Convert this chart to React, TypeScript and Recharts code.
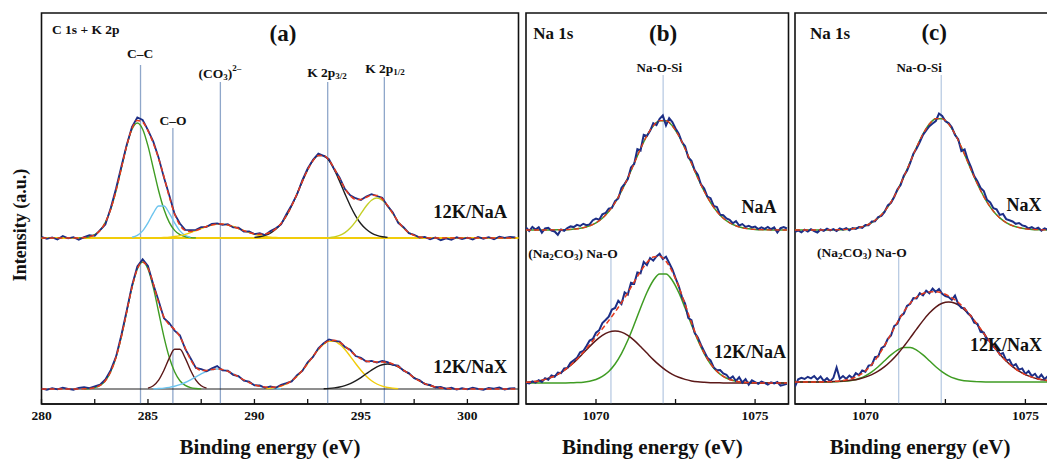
import React from 'react';
import { LineChart, Line, XAxis, YAxis, ReferenceLine, ReferenceArea, ReferenceDot } from 'recharts';

const FONT = '"Liberation Serif", "Times New Roman", Times, serif';
const INK = '#111';

// ---- panel (a): C 1s + K 2p, sampled 280 -> 302.25 eV every 0.25 eV ----
const A_START = 280;
const A_STEP = 0.25;
const A_DOMAIN = [280, 302.4];
const A_TICKS = [280, 282.5, 285, 287.5, 290, 292.5, 295, 297.5, 300];

const aRawNaA = [
  1.2, -0.8, 0.5, -1.5, 2.0, -0.3, 0.9, -1.7, 0.8, 2.9,
  2.2, 7.8, 13.5, 30.0, 49.5, 71.5, 93.0, 111.2, 120.5, 118.0,
  107.9, 96.3, 80.2, 60.5, 42.8, 24.0, 14.5, 8.2, 7.9, 8.1,
  10.8, 11.2, 14.1, 14.6, 13.1, 13.8, 10.6, 10.3, 6.4, 6.7,
  3.9, 4.8, 3.0, 6.9, 9.8, 13.6, 23.9, 33.1, 43.5, 57.9,
  69.6, 78.3, 84.5, 82.1, 78.9, 68.7, 60.4, 48.9, 42.7, 39.8,
  37.9, 41.5, 43.9, 42.0, 40.3, 32.1, 25.6, 15.2, 10.8, 4.9,
  3.2, 0.4, 1.1, -1.3, 0.6, -2.2, -0.4, -1.9, 0.7, -1.0,
  0.3, -1.6, 1.1, -0.7, 0.9, -1.2, 1.4, 0.2, 1.0, 0.5,
];
const aFitNaA = [
  0, 0, 0, 0, 0, 0, 0, 0.1, 0.4, 1.3,
  3.3, 7.6, 15.6, 28.7, 47.3, 69.7, 92.1, 109.6, 117.6, 115.9,
  107.2, 94.7, 79.5, 61.2, 41.3, 24.2, 12.8, 7.6, 6.6, 7.5,
  9.5, 11.5, 13.0, 13.9, 13.9, 13.0, 11.5, 9.5, 7.4, 5.4,
  4.3, 3.7, 4.1, 5.7, 9.2, 14.5, 22.3, 32.3, 44.1, 56.6,
  68.3, 77.4, 82.4, 82.4, 77.8, 69.4, 59.2, 49.5, 42.3, 38.6,
  38.6, 40.7, 42.7, 42.6, 39.1, 32.6, 24.3, 16.4, 10.0, 5.4,
  2.6, 1.1, 0.4, 0, 0, 0, 0, 0, 0, 0,
  0, 0, 0, 0, 0, 0, 0, 0, 0, 0,
];
const aRawNaX = [
  0.5, -0.9, 0.8, -0.4, 1.3, 0.2, -0.7, 1.1, 1.8, 0.9,
  2.6, 4.4, 9.5, 18.9, 32.4, 54.0, 78.3, 103.5, 122.6, 129.8,
  123.1, 104.6, 88.2, 70.8, 65.9, 58.4, 53.6, 40.1, 30.7, 21.0,
  19.9, 17.8, 20.6, 22.9, 18.6, 18.3, 14.2, 12.9, 8.4, 7.3,
  3.6, 3.5, 1.2, 2.6, 1.3, 4.2, 5.8, 7.6, 13.9, 18.1,
  26.7, 32.0, 40.6, 45.8, 49.6, 48.1, 47.5, 42.0, 39.2, 33.0,
  31.3, 27.4, 28.1, 26.4, 28.0, 26.9, 24.1, 23.4, 18.2, 16.1,
  10.7, 8.9, 4.8, 4.1, 1.5, 2.0, 0.1, 1.2, -0.6, 0.9,
  -0.3, 1.4, 0.2, -0.8, 1.0, 0.4, 1.5, -0.5, 0.7, 0.9,
];
const aFitNaX = [
  0, 0, 0, 0, 0, 0, 0, 0, 0.2, 0.5,
  1.4, 3.6, 8.3, 17.2, 31.7, 52.2, 77.0, 101.7, 120.1, 127.0,
  121.0, 105.2, 86.4, 71.9, 64.2, 59.6, 52.3, 41.0, 29.4, 21.5,
  18.6, 18.6, 19.4, 20.0, 19.4, 17.7, 15.1, 12.1, 9.2, 6.5,
  4.3, 2.7, 2.0, 1.7, 2.0, 3.1, 5.0, 8.3, 12.8, 18.7,
  25.5, 32.7, 39.5, 45.0, 48.2, 48.7, 46.7, 42.9, 38.1, 33.6,
  30.1, 28.0, 27.2, 27.1, 27.1, 26.5, 25.0, 22.5, 18.9, 15.2,
  11.4, 8.1, 5.4, 3.4, 2.0, 1.1, 0.6, 0.3, 0, 0,
  0, 0, 0, 0, 0, 0, 0, 0, 0, 0,
];

// fitted components (first energy, values on the 0.25 eV grid)
const aNaACC = { from: 281.75, vals: [0.1, 0.4, 1.3, 3.3, 7.6, 15.6, 28.7, 47.3, 69.7, 92.1, 108.8, 115, 108.8, 92.1, 69.7, 47.3, 28.7, 15.6, 7.6, 3.3, 1.3, 0.4, 0.1] };
const aNaACO = { from: 284.25, vals: [0.75, 2.6, 7.1, 15.1, 24.9, 32.0, 32.0, 24.9, 15.1, 7.1, 2.6, 0.75] };
const aNaACO3 = { from: 285.25, vals: [0.1, 0.2, 0.45, 0.8, 1.5, 2.4, 3.7, 5.4, 7.4, 9.5, 11.5, 13.0, 13.9, 13.9, 13.0, 11.5, 9.5, 7.4, 5.4, 3.7, 2.4, 1.5, 0.8, 0.45, 0.2, 0.1] };
const aNaAK3 = { from: 290.0, vals: [0.6, 1.3, 2.6, 4.9, 8.7, 14.3, 22.2, 32.3, 44.1, 56.6, 68.3, 77.4, 82.4, 82.4, 77.4, 68.3, 56.6, 44.1, 32.3, 22.2, 14.3, 8.7, 4.9, 2.6, 1.3, 0.6] };
const aNaAK1 = { from: 293.5, vals: [0.4, 1.1, 2.6, 5.4, 10.0, 16.4, 24.3, 32.0, 37.8, 40, 37.8, 32.0, 24.3, 16.4, 10.0, 5.4, 2.6, 1.1, 0.4] };
const aNaXCC = { from: 282.0, vals: [0.15, 0.5, 1.4, 3.6, 8.3, 17.2, 31.7, 52.2, 77.0, 101.7, 120.1, 127, 120.1, 101.7, 77.0, 52.2, 31.7, 17.2, 8.3, 3.6, 1.4, 0.5, 0.15] };
const aNaXCO = { from: 285.0, vals: [0.9, 3.3, 8.9, 18.8, 30.9, 39.7, 39.7, 30.9, 18.8, 8.9, 3.3, 0.9] };
const aNaXCO3 = { from: 285.25, vals: [0.2, 0.5, 0.9, 1.6, 2.7, 4.3, 6.5, 9.2, 12.1, 15.1, 17.7, 19.4, 20, 19.4, 17.7, 15.1, 12.1, 9.2, 6.5, 4.3, 2.7, 1.6, 0.9, 0.5, 0.2] };
const aNaXK3 = { from: 290.5, vals: [0.4, 0.8, 1.5, 2.9, 5.0, 8.3, 12.8, 18.7, 25.5, 32.7, 39.5, 44.7, 47.6, 47.6, 44.7, 39.5, 32.7, 25.5, 18.7, 12.8, 8.3, 5.0, 2.9, 1.5, 0.8, 0.4] };
const aNaXK1 = { from: 293.25, vals: [0.3, 0.6, 1.1, 2.0, 3.4, 5.4, 8.1, 11.4, 15.2, 18.9, 22.1, 24.2, 25, 24.2, 22.1, 18.9, 15.2, 11.4, 8.1, 5.4, 3.4, 2.0, 1.1, 0.6, 0.3] };

const aPeakEnergies = [284.65, 286.17, 288.4, 293.44, 296.1];
const aPeakTops = [339, 276, 322, 322, 327];

// ---- panels (b), (c): Na 1s. raw every 0.1 eV, fits every 0.2 eV from 1067.8 ----
const NA_START = 1067.8;
const NA_DOMAIN = [1067.8, 1076.05];
const NA_TICKS = [1070, 1072.5, 1075];

const bRawNaA = [
  2.5, -1.0, 3.0, 0.5, 2.8, -2.6, 1.5, 2.2, -0.5, -1.5,
  -4.8, 0.5, -0.8, 2.0, 3.6, 2.9, 5.1, 4.0, 6.2, 4.8,
  5.6, 9.8, 11.5, 10.2, 15.6, 17.0, 21.3, 22.0, 28.9, 31.5,
  42.0, 46.1, 51.0, 62.5, 66.0, 80.8, 79.5, 95.2, 94.0, 99.1,
  106.8, 104.9, 111.2, 114.5, 104.6, 111.9, 108.0, 101.6, 96.3, 88.0,
  83.9, 72.5, 69.2, 60.0, 55.4, 45.5, 41.6, 33.4, 31.8, 24.0,
  22.9, 15.3, 14.8, 11.6, 10.1, 6.7, 8.9, 4.5, 5.9, 3.1,
  4.2, 2.5, 3.4, 0.9, 2.7, 1.2, 3.0, 0.8, 2.6, -2.5,
  1.8, 2.9, 1.5,
];
const bFitNaA = [0, 0, 0, 0.02, 0.05, 0.13, 0.3, 0.6, 1.2, 2.3, 4.2, 7.2, 11.8, 18.5, 27.4, 38.8, 52.1, 66.7, 81.3, 94.3, 104.1, 109.3, 109.3, 104.1, 94.3, 81.3, 66.7, 52.1, 38.8, 27.4, 18.5, 11.8, 7.2, 4.2, 2.3, 1.2, 0.6, 0.3, 0.13, 0.05, 0.02, 0];
const bRaw12K = [
  0.2, -0.5, 1.6, 0.4, 2.8, 1.0, 4.8, 3.3, 7.5, 6.2,
  10.4, 9.8, 14.5, 15.0, 20.3, 22.8, 25.1, 30.6, 32.0, 36.9,
  42.5, 44.0, 50.3, 52.8, 59.9, 63.0, 66.4, 73.5, 75.1, 82.3,
  79.0, 90.6, 88.4, 100.2, 99.3, 110.5, 109.8, 121.0, 117.9, 125.0,
  122.4, 126.5, 129.2, 124.0, 126.3, 120.0, 113.6, 104.8, 97.0, 86.1,
  79.5, 65.0, 62.8, 50.1, 45.6, 38.0, 31.5, 25.2, 22.6, 15.5,
  12.8, 12.9, 9.6, 8.3, 4.2, 6.5, 2.0, 5.7, 0.5, 3.9,
  -1.6, 2.6, 0.9, -0.8, 1.3, 0.2, -1.5, 0.6, -0.5, 1.0,
  -2.6, -1.9, -0.9,
];
const bFit12K = [0.7, 1.2, 2.1, 3.6, 5.7, 8.6, 12.7, 17.8, 23.8, 30.7, 38.3, 46.1, 54.2, 62.4, 71.0, 80.3, 90.3, 101.0, 111.5, 120.4, 125.9, 126.7, 121.7, 111.1, 96.2, 78.6, 60.5, 43.9, 30.1, 19.4, 11.7, 6.7, 3.5, 1.8, 0.8, 0.4, 0.15, 0.06, 0, 0, 0, 0];
const bSi12K = [0, 0, 0, 0, 0, 0, 0.06, 0.15, 0.4, 0.8, 1.8, 3.5, 6.6, 11.5, 19.0, 29.4, 42.7, 58.4, 75.0, 90.5, 102.5, 109.1, 109.1, 102.5, 90.5, 75.0, 58.4, 42.7, 29.4, 19.0, 11.5, 6.6, 3.5, 1.8, 0.8, 0.4, 0.15, 0.06, 0, 0, 0, 0];
const bCO312K = [0.7, 1.2, 2.1, 3.6, 5.7, 8.6, 12.6, 17.6, 23.4, 29.9, 36.5, 42.6, 47.6, 50.9, 52, 50.9, 47.6, 42.6, 36.5, 29.9, 23.4, 17.6, 12.6, 8.6, 5.7, 3.6, 2.1, 1.2, 0.7, 0.35, 0.18, 0.09, 0.04, 0, 0, 0, 0, 0, 0, 0, 0, 0];

const cRawNaX = [
  -1.8, -0.5, -2.4, 0.3, -1.6, 0.8, -1.2, -2.5, 0.5, -0.9,
  1.3, -0.4, 0.9, -1.1, 1.6, 0.4, 1.8, -0.3, 2.0, 1.1,
  2.9, 2.2, 5.1, 4.9, 8.6, 8.8, 13.0, 14.1, 18.0, 24.6,
  27.2, 33.0, 40.6, 45.0, 54.3, 59.2, 67.0, 76.4, 81.5, 88.0,
  95.2, 99.6, 103.8, 106.5, 109.0, 116.5, 114.0, 108.7, 106.9, 102.8,
  95.0, 90.8, 79.0, 80.5, 70.3, 62.8, 53.9, 48.8, 42.0, 38.9,
  30.1, 27.5, 21.8, 20.6, 15.1, 16.0, 10.9, 9.8, 8.5, 6.2,
  7.0, 4.6, 3.8, 1.5, 2.9, 0.8, 2.4, -0.6, 1.7, 0.2,
  1.9, -0.4, 1.2,
];
const cFitNaX = [0, 0, 0, 0, 0.02, 0.05, 0.13, 0.3, 0.6, 1.2, 2.4, 4.3, 7.4, 12.1, 18.8, 27.9, 39.5, 53.1, 67.9, 82.8, 96.0, 106.0, 111.3, 111.3, 106.0, 96.0, 82.8, 67.9, 53.1, 39.5, 27.9, 18.8, 12.1, 7.4, 4.3, 2.4, 1.2, 0.6, 0.3, 0.13, 0.05, 0.02];
const cRaw12K = [
  -4.5, 2.8, 4.1, 3.0, 5.2, 3.6, 6.0, 2.4, 5.5, 1.0,
  3.8, 0.6, 4.2, 14.5, 3.2, 5.9, 3.1, 6.4, 4.0, 8.8,
  6.9, 11.5, 10.2, 16.4, 17.0, 24.8, 25.5, 33.9, 36.0, 43.2,
  46.5, 56.0, 58.3, 65.9, 68.4, 76.1, 78.2, 84.0, 83.5, 88.9,
  86.7, 91.4, 88.8, 93.5, 90.0, 93.0, 88.2, 86.0, 84.9, 82.1,
  86.4, 78.0, 74.2, 73.5, 68.7, 66.0, 59.4, 58.3, 50.2, 49.5,
  42.0, 41.6, 35.2, 34.7, 27.5, 28.9, 21.6, 22.4, 16.0, 17.9,
  12.2, 13.6, 8.1, 10.9, 6.0, 8.2, 3.5, 7.4, 2.8, 5.9,
  2.1, 4.6, 1.9,
];
const cFit12K = [0, 0, 0.02, 0.05, 0.1, 0.26, 0.56, 1.1, 2.1, 3.7, 6.6, 11.1, 17.6, 26.1, 36.5, 48.1, 59.7, 70.2, 78.7, 84.8, 88.5, 90.1, 90.2, 88.9, 86.2, 82.2, 76.7, 69.8, 61.8, 53.1, 44.2, 35.6, 27.8, 21.0, 15.3, 10.8, 7.4, 4.9, 3.1, 1.9, 1.2, 0.7];
const cCO312K = [0, 0, 0, 0, 0, 0.06, 0.16, 0.4, 0.9, 1.8, 3.5, 6.2, 10.2, 15.3, 21.2, 27.1, 31.9, 34.6, 34.6, 31.9, 27.1, 21.2, 15.3, 10.2, 6.2, 3.5, 1.8, 0.9, 0.4, 0.16, 0.06, 0, 0, 0, 0, 0, 0, 0, 0, 0, 0, 0];
const cSi12K = [0, 0, 0.02, 0.05, 0.1, 0.2, 0.4, 0.7, 1.2, 1.9, 3.1, 4.9, 7.4, 10.8, 15.3, 21.0, 27.8, 35.6, 44.1, 52.9, 61.4, 68.9, 74.9, 78.7, 80, 78.7, 74.9, 68.9, 61.4, 52.9, 44.1, 35.6, 27.8, 21.0, 15.3, 10.8, 7.4, 4.9, 3.1, 1.9, 1.2, 0.7];

// vertical stacking offsets of each spectrum (a.u.)
const OFF_A_NAA = 166;
const OFF_A_NAX = 15;
const OFF_B_NAA = 174;
const OFF_B_12K = 21;
const OFF_C_NAX = 174;
const OFF_C_12K = 22;
const Y_MAX = 391;

const pts = (from: number, step: number, vals: number[], off: number) =>
  vals.map((v, i) => ({ e: Math.round((from + i * step) * 100) / 100, v: v + off }));

const C = {
  raw: '#1c2e86',
  fit: '#e5391d',
  green: '#3f9c23',
  sky: '#6cc4ee',
  gold: '#f1cc0a',
  lime: '#c4cf27',
  black: '#1e1e1e',
  brown: '#5b1818',
  marker: '#8fa7ca',
  pale: '#b9cbe3',
};

const base = { dot: false, activeDot: false, isAnimationActive: false } as const;

function curve(key: string, data: any[], stroke: string, width = 1.4, dashed = false, linear = false) {
  return (
    <Line
      key={key}
      data={data}
      dataKey="v"
      type={linear ? 'linear' : 'monotone'}
      stroke={stroke}
      strokeWidth={width}
      strokeDasharray={dashed ? '5 3' : undefined}
      {...base}
    />
  );
}

function tag(key: string, x: number, y: number, content: React.ReactNode, size = 13.5, anchor = 'middle', rotate = false) {
  return (
    <ReferenceDot
      key={key}
      x={x}
      y={y}
      r={0}
      fill="none"
      stroke="none"
      ifOverflow="visible"
      label={(p: any) => {
        const vb = p.viewBox || {};
        const cx = (vb.x ?? 0) + (vb.width ?? 0) / 2;
        const cy = (vb.y ?? 0) + (vb.height ?? 0) / 2;
        return (
          <text
            x={cx}
            y={cy}
            textAnchor={anchor}
            dominantBaseline="central"
            fontFamily={FONT}
            fontWeight="bold"
            fontSize={size}
            fill={INK}
            transform={rotate ? `rotate(-90 ${cx} ${cy})` : undefined}
          >
            {content}
          </text>
        );
      }}
    />
  );
}

function marker(key: string, x: number, top: number, color: string) {
  return <ReferenceLine key={key} segment={[{ x, y: top }, { x, y: 0 }]} stroke={color} strokeWidth={1.3} ifOverflow="visible" />;
}

const SUB = 3.5;

const co3Label = (
  <>
    <tspan>(CO</tspan>
    <tspan dy={SUB} fontSize={9}>3</tspan>
    <tspan dy={-SUB}>)</tspan>
    <tspan dy={-5} fontSize={9}>{'2\u2013'}</tspan>
  </>
);

const k32Label = (
  <>
    <tspan>K 2p</tspan>
    <tspan dy={SUB} fontSize={9}>3/2</tspan>
  </>
);

const k12Label = (
  <>
    <tspan>K 2p</tspan>
    <tspan dy={SUB} fontSize={9}>1/2</tspan>
  </>
);

const na2co3 = (
  <>
    <tspan>(Na</tspan>
    <tspan dy={SUB} fontSize={9}>2</tspan>
    <tspan dy={-SUB}>CO</tspan>
    <tspan dy={SUB} fontSize={9}>3</tspan>
    <tspan dy={-SUB}>) Na-O</tspan>
  </>
);

function Panel({ left, width, mLeft, mRight, domain, ticks, children }: any) {
  return (
    <div style={{ position: 'absolute', left, top: 0 }}>
      <LineChart width={width} height={460} margin={{ top: 13, left: mLeft, right: mRight, bottom: 26 }}>
        <XAxis
          dataKey="e"
          type="number"
          domain={domain}
          allowDataOverflow
          ticks={ticks}
          interval={0}
          tickFormatter={(v: number) => (v % 5 === 0 ? String(v) : '')}
          tickSize={-5}
          tickMargin={11}
          height={30}
          axisLine={{ stroke: INK, strokeWidth: 1.6 }}
          tickLine={{ stroke: INK, strokeWidth: 1.3 }}
          tick={{ fill: INK, fontSize: 13.5, fontWeight: 'bold', fontFamily: FONT }}
        />
        <YAxis hide type="number" domain={[0, Y_MAX]} allowDataOverflow />
        <ReferenceArea x1={domain[0]} x2={domain[1]} y1={0} y2={Y_MAX} fill="none" stroke={INK} strokeWidth={1.6} ifOverflow="visible" />
        {children}
      </LineChart>
    </div>
  );
}

export default function App() {
  const s = (c: { from: number; vals: number[] }, off: number) => pts(c.from, A_STEP, c.vals, off);

  const panelA = [
    ...aPeakEnergies.map((e, i) => marker('m' + i, e, aPeakTops[i], C.marker)),
    <ReferenceLine key="bl1" y={OFF_A_NAA} stroke={C.gold} strokeWidth={1.8} />,
    <ReferenceLine key="bl2" y={OFF_A_NAX} stroke={C.black} strokeWidth={1} />,
    curve('a1', s(aNaACC, OFF_A_NAA), C.green),
    curve('a2', s(aNaACO, OFF_A_NAA), C.sky),
    curve('a3', s(aNaACO3, OFF_A_NAA), C.gold),
    curve('a4', s(aNaAK3, OFF_A_NAA), C.black),
    curve('a5', s(aNaAK1, OFF_A_NAA), C.lime),
    curve('a6', pts(A_START, A_STEP, aRawNaA, OFF_A_NAA), C.raw, 1.8, false, true),
    curve('a7', pts(A_START, A_STEP, aFitNaA, OFF_A_NAA), C.fit, 1.5, true),
    curve('x1', s(aNaXCC, OFF_A_NAX), C.green),
    curve('x2', s(aNaXCO, OFF_A_NAX), C.brown),
    curve('x3', s(aNaXCO3, OFF_A_NAX), C.sky),
    curve('x4', s(aNaXK3, OFF_A_NAX), C.gold),
    curve('x5', s(aNaXK1, OFF_A_NAX), C.black),
    curve('x6', pts(A_START, A_STEP, aRawNaX, OFF_A_NAX), C.raw, 1.8, false, true),
    curve('x7', pts(A_START, A_STEP, aFitNaX, OFF_A_NAX), C.fit, 1.5, true),
    tag('t1', 280.49, 375, 'C 1s + K 2p', 13.5, 'start'),
    tag('t2', 291.34, 371, '(a)', 23),
    tag('t3', 284.63, 351, 'C\u2013C'),
    tag('t4', 286.18, 284, 'C\u2013O'),
    tag('t5', 288.38, 331, co3Label),
    tag('t6', 293.41, 332, k32Label),
    tag('t7', 296.13, 336, k12Label),
    tag('t8', 300.13, 192, '12K/NaA', 18.5),
    tag('t9', 300.13, 37, '12K/NaX', 18.5),
    tag('t10', 278.99, 179, 'Intensity (a.u.)', 18, 'middle', true),
    tag('t11', 290.73, -43, 'Binding energy (eV)', 21),
  ];

  const panelB = [
    marker('m1', 1072.11, 329, C.pale),
    marker('m2', 1070.47, 151, C.pale),
    curve('b1', pts(NA_START, 0.2, bFitNaA, OFF_B_NAA), C.green, 1.5),
    curve('b2', pts(NA_START, 0.1, bRawNaA, OFF_B_NAA), C.raw, 2, false, true),
    curve('b3', pts(NA_START, 0.2, bFitNaA, OFF_B_NAA), C.fit, 1.3, true),
    curve('b4', pts(NA_START, 0.2, bSi12K, OFF_B_12K), C.green, 1.5),
    curve('b5', pts(NA_START, 0.2, bCO312K, OFF_B_12K), C.brown, 1.5),
    curve('b6', pts(NA_START, 0.1, bRaw12K, OFF_B_12K), C.raw, 2, false, true),
    curve('b7', pts(NA_START, 0.2, bFit12K, OFF_B_12K), C.fit, 1.5, true),
    tag('u1', 1068.03, 371, 'Na 1s', 17, 'start'),
    tag('u2', 1072.11, 371, '(b)', 23),
    tag('u3', 1071.99, 337, 'Na-O-Si', 13),
    tag('u4', 1075.12, 197, 'NaA', 18),
    tag('u5', 1067.87, 151, na2co3, 13.5, 'start'),
    tag('u6', 1074.84, 52, '12K/NaA', 18),
    tag('u7', 1071.77, -43, 'Binding energy (eV)', 21),
  ];

  const panelC = [
    marker('m1', 1072.37, 329, C.pale),
    marker('m2', 1071.04, 151, C.pale),
    curve('c1', pts(NA_START, 0.2, cFitNaX, OFF_C_NAX), C.green, 1.5),
    curve('c2', pts(NA_START, 0.1, cRawNaX, OFF_C_NAX), C.raw, 2, false, true),
    curve('c3', pts(NA_START, 0.2, cFitNaX, OFF_C_NAX), C.fit, 1.3, true),
    curve('c4', pts(NA_START, 0.2, cCO312K, OFF_C_12K), C.green, 1.5),
    curve('c5', pts(NA_START, 0.2, cSi12K, OFF_C_12K), C.brown, 1.5),
    curve('c6', pts(NA_START, 0.1, cRaw12K, OFF_C_12K), C.raw, 2, false, true),
    curve('c7', pts(NA_START, 0.2, cFit12K, OFF_C_12K), C.fit, 1.5, true),
    tag('v1', 1068.27, 371, 'Na 1s', 17, 'start'),
    tag('v2', 1072.15, 372, '(c)', 23),
    tag('v3', 1071.68, 337, 'Na-O-Si', 13),
    tag('v4', 1074.96, 199, 'NaX', 18),
    tag('v5', 1068.49, 152, na2co3, 13.5, 'start'),
    tag('v6', 1073.27, 59, '12K/NaX', 18, 'start'),
    tag('v7', 1071.71, -43, 'Binding energy (eV)', 21),
  ];

  return (
    <div style={{ position: 'fixed', left: 0, top: 0, width: 1047, height: 460, overflow: 'hidden', background: '#fff' }}>
      <Panel left={0} width={540} mLeft={41.5} mRight={21.5} domain={A_DOMAIN} ticks={A_TICKS}>
        {panelA}
      </Panel>
      <Panel left={510} width={300} mLeft={16} mRight={21.5} domain={NA_DOMAIN} ticks={NA_TICKS}>
        {panelB}
      </Panel>
      <Panel left={780} width={300} mLeft={15} mRight={21} domain={NA_DOMAIN} ticks={NA_TICKS}>
        {panelC}
      </Panel>
    </div>
  );
}
